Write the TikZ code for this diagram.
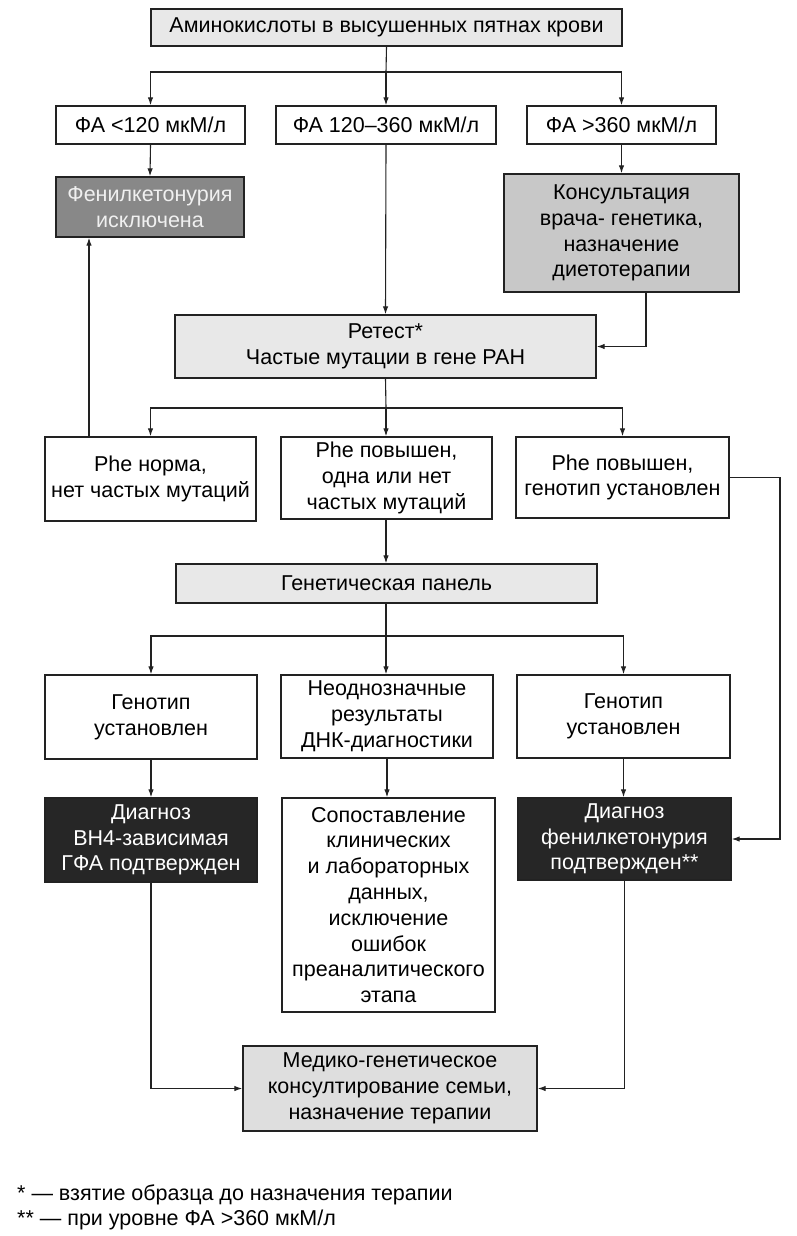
\documentclass[tikz,border=0pt]{standalone}
\usepackage{fontspec}
\setmainfont{Liberation Sans}
\usetikzlibrary{arrows.meta}
\newcommand\boxfont{\fontsize{21.5}{25.8}\selectfont}
\definecolor{lightfill}{HTML}{E8E8E8}
\definecolor{medfill}{HTML}{DEDEDE}
\definecolor{konsfill}{HTML}{C8C8C8}
\definecolor{greyfill}{HTML}{888888}
\definecolor{darkfill}{HTML}{262626}
\definecolor{linecol}{HTML}{222222}
\begin{document}
\begin{tikzpicture}[x=1pt,y=-1pt,
  box/.style={draw=linecol, line width=1.4pt, inner sep=0pt, align=center, font=\boxfont, text=black},
  conn/.style={draw=linecol, line width=1.1pt},
  arr/.style={conn, -{Latex[length=8pt,width=5.5pt]}},
  note/.style={anchor=west, inner sep=0pt, font=\boxfont}]
\useasboundingbox (0,0) rectangle (796,1236);
\fill[white] (0,0) rectangle (796,1236);

\node[box, fill=lightfill, minimum width=471pt, minimum height=37pt] (top) at (386.5,27.5) {Аминокислоты в высушенных пятнах крови};

\node[box, minimum width=189pt, minimum height=38pt] (fa1) at (150.5,125) {ФА <120 мкМ/л};
\node[box, minimum width=220pt, minimum height=38pt] (fa2) at (386,125) {ФА 120–360 мкМ/л};
\node[box, minimum width=189pt, minimum height=38pt] (fa3) at (621.5,125) {ФА >360 мкМ/л};

\node[box, fill=greyfill, text=black!6, minimum width=188pt, minimum height=60pt] (pkuex) at (150,207) {Фенилкетонурия\\исключена};
\node[box, fill=konsfill, minimum width=235pt, minimum height=118pt] (kons) at (621.5,233) {Консультация\\врача- генетика,\\назначение\\диетотерапии};

\node[box, fill=lightfill, minimum width=421pt, minimum height=63pt] (retest) at (385.5,346.5) {Ретест*\\Частые мутации в гене PAH};

\node[box, minimum width=211pt, minimum height=84pt] (phe1) at (150.5,479) {Phe норма,\\нет частых мутаций};
\node[box, minimum width=211pt, minimum height=82pt] (phe2) at (386.5,478) {Phe повышен,\\одна или нет\\частых мутаций};
\node[box, minimum width=213pt, minimum height=81pt] (phe3) at (622.5,477.5) {Phe повышен,\\генотип установлен};

\node[box, fill=lightfill, minimum width=421pt, minimum height=39pt] (panel) at (386.5,583.5) {Генетическая панель};

\node[box, minimum width=212pt, minimum height=84pt] (g1) at (151,717) {Генотип\\установлен};
\node[box, minimum width=212pt, minimum height=83pt] (g2) at (387,716.5) {Неоднозначные\\результаты\\ДНК-диагностики};
\node[box, minimum width=213pt, minimum height=83pt] (g3) at (623.5,716.5) {Генотип\\установлен};

\node[box, fill=darkfill, text=white, minimum width=212pt, minimum height=84pt] (d1) at (151,840) {Диагноз\\BH4-зависимая\\ГФА подтвержден};
\node[box, minimum width=213pt, minimum height=214pt] (d2) at (388.5,905) {Сопоставление\\клинических\\и лабораторных\\данных,\\исключение\\ошибок\\преаналитического\\этапа};
\node[box, fill=darkfill, text=white, minimum width=213pt, minimum height=82pt] (d3) at (624.5,839) {Диагноз\\фенилкетонурия\\подтвержден**};

\node[box, fill=medfill, minimum width=294pt, minimum height=85pt] (med) at (390,1088.5) {Медико-генетическое\\консултирование семьи,\\назначение терапии};

\node[note] (n1) at (17,1195) {* — взятие образца до назначения терапии};
\node[note] (n2) at (17,1220) {** — при уровне ФА >360 мкМ/л};

% helper coordinates
\coordinate (s1) at (386,72);
\coordinate (s2) at (386,408);
\coordinate (s3) at (386,636);
\coordinate (pk) at (89,0);
\coordinate (kk) at (646,0);
\coordinate (rr) at (780,0);

% top split
\draw[conn] (top.south) -- (s1);
\draw[arr] (s1) -- (fa2.north);
\draw[arr] (s1) -| (fa1.north);
\draw[arr] (s1) -| (fa3.north);

\draw[arr] (fa1.south) -- (pkuex.north);
\draw[arr] (fa3.south) -- (kons.north);
\draw[arr] (fa2.south) -- (retest.north);
\draw[arr] (kons.south -| kk) |- (retest.east);

% retest split
\draw[conn] (retest.south) -- (s2);
\draw[arr] (s2) -- (phe2.north -| s2);
\draw[arr] (s2) -| (phe1.north);
\draw[arr] (s2) -| (phe3.north);

\draw[arr] (phe1.north -| pk) -- (pkuex.south -| pk);
\draw[arr] (phe3.east) -- (phe3.east -| rr) |- (d3.east);
\draw[arr] (phe2.south -| s2) -- (panel.north -| s2);

% panel split
\draw[conn] (panel.south -| s3) -- (s3);
\draw[arr] (s3) -- (g2.north -| s3);
\draw[arr] (s3) -| (g1.north);
\draw[arr] (s3) -| (g3.north);

\draw[arr] (g1.south) -- (d1.north);
\draw[arr] (g2.south) -- (d2.north -| g2.south);
\draw[arr] (g3.south) -- (d3.north -| g3.south);

\draw[arr] (d1.south) |- (med.west);
\draw[arr] (d3.south) |- (med.east);
\end{tikzpicture}
\end{document}
